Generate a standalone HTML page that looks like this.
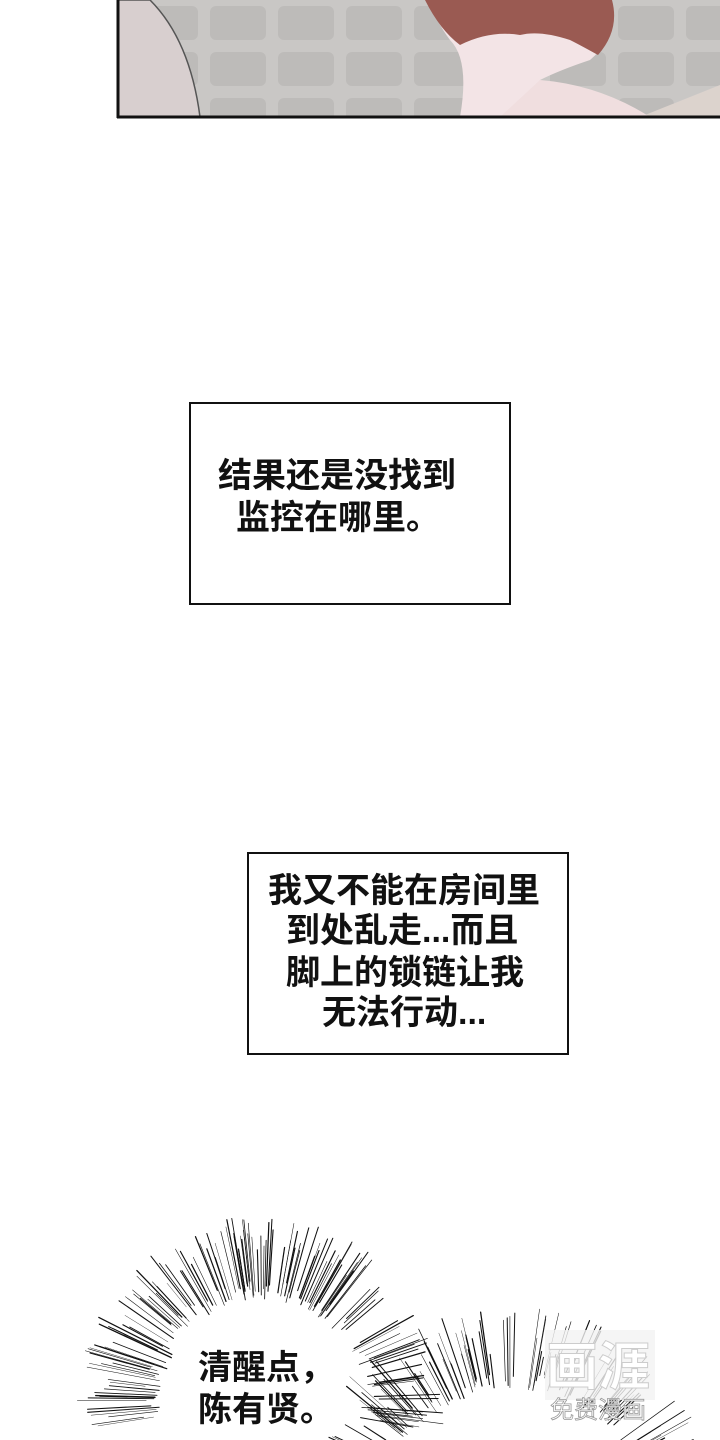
<!DOCTYPE html>
<html><head><meta charset="utf-8">
<style>
html,body{margin:0;padding:0;background:#fff;width:720px;height:1440px;overflow:hidden;position:relative}
.t{position:absolute;font-family:"Liberation Sans","Noto Sans CJK SC",sans-serif;font-weight:bold;font-size:34px;color:#111;white-space:nowrap;line-height:1}
.box{position:absolute;border:2px solid #111;background:#fff;box-sizing:border-box}
</style></head><body>
<svg width="720" height="1440" style="position:absolute;left:0;top:0" id="s">
<defs>
<pattern id="tile" width="68" height="46" patternUnits="userSpaceOnUse">
<rect width="68" height="46" fill="#c9c7c5"/>
<rect x="6" y="6" width="56" height="34" rx="6" fill="#bdbbb9"/>
</pattern>
</defs>
<rect x="118" y="0" width="602" height="117" fill="url(#tile)"/>
<path d="M118 0 L150 0 Q190 40 200 117 L118 117Z" fill="#d8cfcf" stroke="#555" stroke-width="1.5"/>
<path d="M640 117 L720 85 L720 117Z" fill="#dcd3cd"/>
<path d="M430 0 L610 0 Q615 40 590 60 Q560 70 540 80 L520 117 L460 117 Q470 60 450 40 Q435 20 430 0Z" fill="#f3e4e6"/>
<path d="M425 0 L612 0 Q620 30 598 55 Q580 45 570 40 Q540 30 520 35 Q490 30 460 45 Q440 30 425 0Z" fill="#9a5a52"/>
<path d="M540 80 Q600 85 650 117 L500 117Z" fill="#f0dedf"/>
<line x1="118" y1="0" x2="118" y2="118" stroke="#111" stroke-width="3"/>
<line x1="117" y1="117" x2="720" y2="117" stroke="#111" stroke-width="3"/>
<g id="lines" stroke="#111" stroke-linecap="round"></g>
<rect x="545" y="1330" width="110" height="70" fill="#f2f2f2" opacity="0.8"/>
<text x="598" y="1385" text-anchor="middle" font-family="Liberation Sans,Noto Sans CJK SC,sans-serif" font-size="52" font-weight="bold" fill="#fff" stroke="#ccc" stroke-width="1">画涯</text>
<text x="598" y="1418" text-anchor="middle" font-family="Liberation Sans,Noto Sans CJK SC,sans-serif" font-size="24" fill="#fff" stroke="#999" stroke-width="0.8">免费漫画</text>
</svg>
<div class="box" style="left:189px;top:402px;width:322px;height:203px"></div>
<div class="t" style="left:218px;top:459px">结果还是没找到</div>
<div class="t" style="left:236px;top:501px">监控在哪里。</div>
<div class="box" style="left:247px;top:852px;width:322px;height:203px"></div>
<div class="t" style="left:268px;top:874px">我又不能在房间里</div>
<div class="t" style="left:286px;top:914px">到处乱走...而且</div>
<div class="t" style="left:286px;top:956px">脚上的锁链让我</div>
<div class="t" style="left:322px;top:996px">无法行动...</div>
<div class="t" style="left:198px;top:1351px">清醒点，</div>
<div class="t" style="left:198px;top:1393px">陈有贤。</div>
<script>
var g=document.getElementById('lines');var ns='http://www.w3.org/2000/svg';
function burst(cx,cy,r1,r2a,r2b,n,a0,a1,seed){function rnd(){seed=(seed*9301+49297)%233280;return seed/233280}
for(var i=0;i<n;i++){var a=a0+(a1-a0)*rnd();var ri=r1+rnd()*20;var ro=r2a+rnd()*(r2b-r2a);
var l=document.createElementNS(ns,'line');l.setAttribute('x1',cx+Math.cos(a)*ri);l.setAttribute('y1',cy+Math.sin(a)*ri);
l.setAttribute('x2',cx+Math.cos(a)*ro);l.setAttribute('y2',cy+Math.sin(a)*ro);l.setAttribute('stroke-width',0.4+rnd()*0.9);g.appendChild(l);}}
burst(262,1400,100,150,185,150,Math.PI*0.95,Math.PI*2.08,7);
burst(510,1520,130,165,215,110,Math.PI*1.08,Math.PI*1.92,3);
</script>
</body></html>
